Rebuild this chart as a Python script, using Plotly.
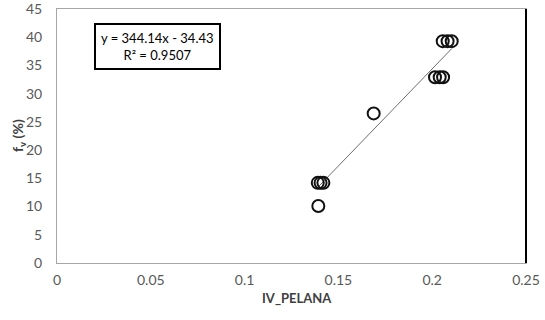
import plotly.graph_objects as go

# Data
iv_pelana = [0.1390, 0.1405, 0.1420, 0.1393, 0.1688, 0.2015, 0.2040, 0.2058, 0.2056, 0.2082, 0.2104]
fv_pct = [14.2, 14.2, 14.2, 10.1, 26.5, 32.9, 32.9, 32.9, 39.3, 39.3, 39.3]

slope = 344.14
intercept = -34.43
r_squared = 0.9507

x_ticks = [0, 0.05, 0.1, 0.15, 0.2, 0.25]
x_tick_labels = ["0", "0.05", "0.1", "0.15", "0.2", "0.25"]
y_ticks = [0, 5, 10, 15, 20, 25, 30, 35, 40, 45]

FONT = "Lato, 'Open Sans', sans-serif"

x_line = [min(iv_pelana), max(iv_pelana)]
y_line = [slope * v + intercept for v in x_line]

fig = go.Figure()
fig.add_trace(go.Scatter(
    x=x_line, y=y_line, mode="lines",
    line=dict(color="#6e6e6e", width=1),
    showlegend=False, hoverinfo="skip",
))
fig.add_trace(go.Scatter(
    x=iv_pelana, y=fv_pct, mode="markers",
    marker=dict(symbol="circle-open", size=12, color="#111111", line=dict(width=2, color="#111111")),
    showlegend=False,
))

fig.add_annotation(
    xref="paper", yref="paper",
    x=(94 - 57) / 469, y=(263 - 23) / 254, xanchor="left", yanchor="top",
    text=f"y = {slope}x - {abs(intercept)}<br>R² = {r_squared}",
    showarrow=False, align="center",
    font=dict(family=FONT, size=13, color="#000000"),
    bordercolor="#000000", borderwidth=2, borderpad=5, bgcolor="white",
)

# axis titles
fig.add_annotation(
    xref="paper", yref="paper", x=(297 - 57) / 469, y=(263 - 298) / 254,
    xanchor="center", yanchor="middle", showarrow=False,
    text="<b>IV_PELANA</b>", font=dict(family=FONT, size=13, color="#404040"),
)
fig.add_annotation(
    xref="paper", yref="paper", x=(18 - 57) / 469, y=(263 - 136) / 254,
    xanchor="center", yanchor="middle", showarrow=False, textangle=-90,
    text="<b>f<sub>v</sub> (%)</b>", font=dict(family=FONT, size=14, color="#404040"),
)

fig.update_layout(
    width=545, height=320,
    margin=dict(l=57, r=19, t=9, b=57, autoexpand=False),
    paper_bgcolor="white", plot_bgcolor="white",
    font=dict(family=FONT, size=14, color="#595959"),
    xaxis=dict(
        range=[0, 0.25], tickvals=x_ticks, ticktext=x_tick_labels,
        showgrid=False, zeroline=False, showline=True, linecolor="#a6a6a6", linewidth=1,
        mirror=True, ticks="", ticklen=0, automargin=False, ticklabelstandoff=4,
        ticklabeloverflow="allow",
    ),
    yaxis=dict(
        range=[0, 45], tickvals=y_ticks,
        showgrid=False, zeroline=False, showline=True, linecolor="#a6a6a6", linewidth=1,
        mirror=True, ticks="", ticklen=0, automargin=False, ticklabelstandoff=11,
        ticklabeloverflow="allow",
    ),
)

# right border drawn darker, as in the reference
fig.add_shape(type="line", xref="paper", yref="paper", x0=1, x1=1, y0=0, y1=1,
              line=dict(color="#000000", width=2))

fig.write_html("out.html", config={"displayModeBar": False},
               post_script="document.body.style.margin='0';")
